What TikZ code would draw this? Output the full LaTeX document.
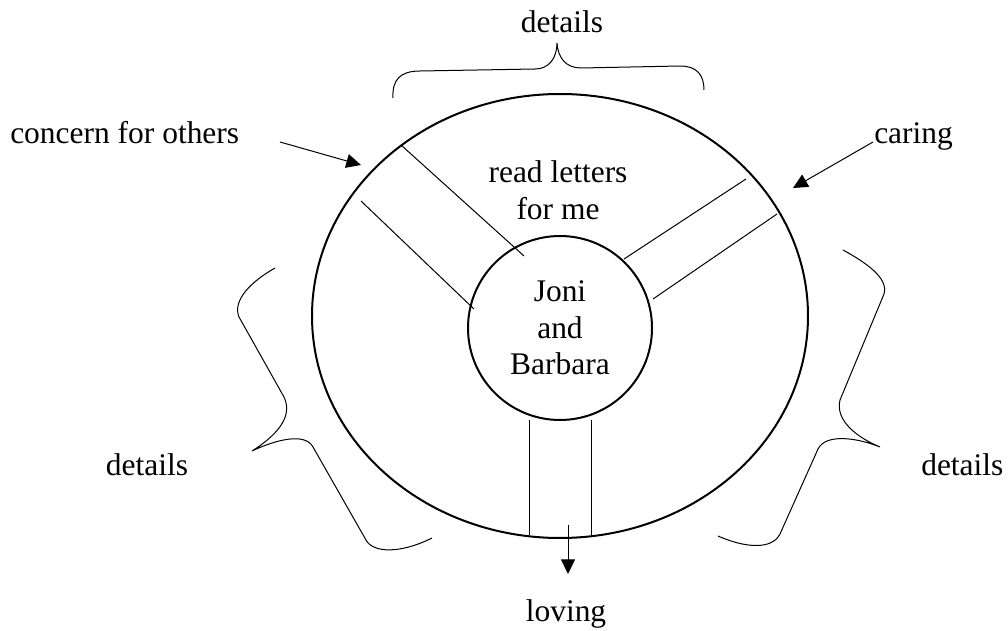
\documentclass[tikz,border=0pt]{standalone}
\usepackage{fontspec}
\setmainfont{Liberation Serif}
\usetikzlibrary{shapes.geometric,arrows.meta}
\begin{document}
\begin{tikzpicture}[x=0.75pt,y=-0.75pt,
  lbl/.style={font=\fontsize{23.6}{27.5}\selectfont, inner sep=0pt},
  ring/.style={draw, line width=1.5pt, inner sep=0pt},
  spoke/.style={line width=0.75pt},
  brace/.style={line width=0.75pt},
  pointer/.style={line width=0.75pt, -{Triangle[length=11pt,width=10.5pt]}}]
\useasboundingbox (0,0) rectangle (1008,631);
% rings
\node[ring, ellipse, minimum width=372pt, minimum height=333pt] (outer) at (560,316) {};
\node[ring, circle, minimum size=138pt] (inner) at (560,328) {};
% texts
\node[lbl, align=center] (hub) at (560,328) {Joni\\and\\Barbara};
\node[lbl, align=center] (read) at (558,190) {read letters\\for me};
\node[lbl, anchor=base west] (concern) at (10,144) {concern for others};
\node[lbl, anchor=base west] (caring) at (874,144) {caring};
\node[lbl, anchor=base] (dtop) at (562,33) {details};
\node[lbl, anchor=base] (dleft) at (147,475) {details};
\node[lbl, anchor=base west] (dright) at (921,475) {details};
\node[lbl, anchor=base] (loving) at (566,621) {loving};
% spokes
\draw[spoke] (401,145) -- (524,256);
\draw[spoke] (361,201) -- (474,309);
\draw[spoke] (746,179) -- (624,259);
\draw[spoke] (777,214) -- (653,299);
\draw[spoke] (529,420) -- (529,535);
\draw[spoke] (591,420) -- (591,535);
% pointer arrows
\coordinate (concernStart) at (280,142);
\coordinate (concernTip) at (361,165);
\coordinate (caringStart) at (873,142);
\coordinate (caringTip) at (793,188);
\coordinate (lovingStart) at (568,525);
\coordinate (lovingTip) at (568,574);
\draw[pointer] (concernStart) -- (concernTip);
\draw[pointer] (caringStart) -- (caringTip);
\draw[pointer] (lovingStart) -- (lovingTip);
% braces
\draw[brace] (393,98) .. controls (392,80) and (400,71) .. (420,71) -- (535,69)
  .. controls (549,69) and (557,58) .. (557,43)
  .. controls (558,58) and (566,68) .. (581,68) -- (680,66)
  .. controls (697,66) and (704,75) .. (704,90);
\draw[brace] (275,268) .. controls (252,281) and (232,300) .. (239,317) -- (284,397)
  .. controls (292,414) and (282,432) .. (252,451)
  .. controls (275,440) and (305,432) .. (313,447) -- (366,540)
  .. controls (373,553) and (400,554) .. (432,538);
\draw[brace] (843,250) .. controls (865,262) and (889,278) .. (884,294) -- (840,400)
  .. controls (835,420) and (856,437) .. (880,447)
  .. controls (858,438) and (826,433) .. (818,449) -- (780,534)
  .. controls (772,550) and (745,548) .. (718,536);
\end{tikzpicture}
\end{document}
